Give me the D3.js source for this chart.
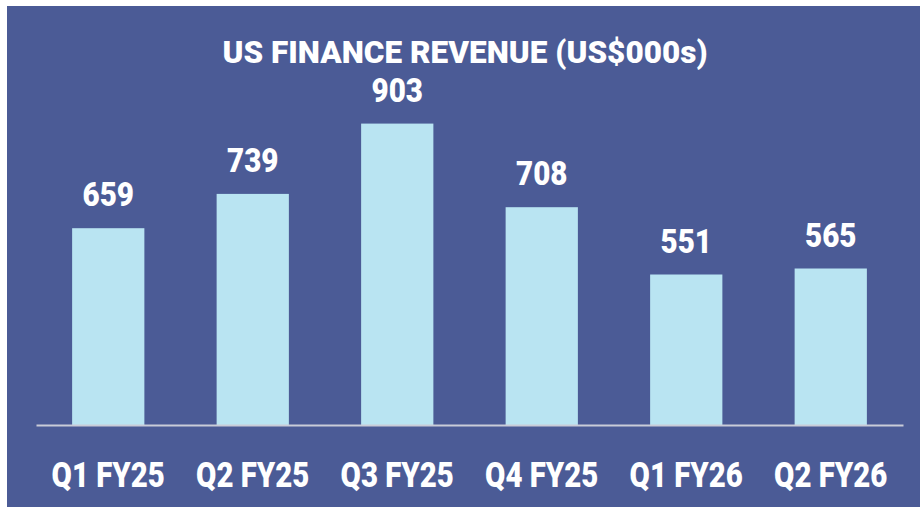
<!DOCTYPE html>
<html>
<head>
<meta charset="utf-8">
<script src="https://cdn.jsdelivr.net/npm/d3@7"></script>
<style>
  html, body { margin: 0; padding: 0; background: #fff; }
  svg text { font-family: Roboto, "DejaVu Sans", sans-serif; font-weight: 900; fill: #fff; }
</style>
</head>
<body>
<div id="chart"></div>
<script>
// chart data
var categories = ["Q1 FY25", "Q2 FY25", "Q3 FY25", "Q4 FY25", "Q1 FY26", "Q2 FY26"];
var revenue = [659, 739, 903, 708, 551, 565];
var title = "US FINANCE REVENUE (US$000s)";

var W = 920, H = 507;
var margin = { top: 82, right: 17, bottom: 82, left: 36 };
var width = W - margin.left - margin.right,
    height = 425 - margin.top;

// squeeze text horizontally, the original uses a condensed face
function condense(sel, target) {
    sel.each(function () {
        var len = this.getComputedTextLength();
        d3.select(this)
            .attr("textLength", len * target)
            .attr("lengthAdjust", "spacingAndGlyphs");
    });
}

var svg = d3.select("#chart")
    .append("svg")
    .attr("width", W)
    .attr("height", H);

// background panel
svg.append("rect")
    .attr("x", 7).attr("y", 6)
    .attr("width", W - 7).attr("height", H - 6)
    .attr("fill", "#4b5b96");

svg.append("text")
    .attr("x", 465).attr("y", 63)
    .attr("text-anchor", "middle")
    .style("font-size", "31px")
    .text(title)
    .attr("textLength", 485)
    .attr("lengthAdjust", "spacingAndGlyphs");

var g = svg.append("g")
    .attr("transform", "translate(" + margin.left + "," + margin.top + ")");

var x = d3.scaleBand()
    .range([0, width])
    .domain(categories)
    .paddingInner(0.5)
    .paddingOuter(0.25);

// axis does not start at zero in the original
var y = d3.scaleLinear()
    .domain([200, 1000])
    .range([height, 0]);

// bars
g.selectAll("rect.bar")
    .data(revenue)
    .enter()
    .append("rect")
    .attr("class", "bar")
    .attr("x", function (d, i) { return x(categories[i]); })
    .attr("width", x.bandwidth())
    .attr("y", function (d) { return y(d); })
    .attr("height", function (d) { return height - y(d); })
    .attr("fill", "#b9e4f2");

// value labels
g.selectAll("text.val")
    .data(revenue)
    .enter()
    .append("text")
    .attr("class", "val")
    .attr("x", function (d, i) { return x(categories[i]) + x.bandwidth() / 2; })
    .attr("y", function (d) { return y(d) - 22; })
    .attr("text-anchor", "middle")
    .style("font-size", "34px")
    .text(function (d) { return d; })
    .call(condense, 0.87);

// x axis
var xAxis = g.append("g")
    .attr("transform", "translate(0," + height + ")")
    .call(d3.axisBottom(x).tickSize(0).tickPadding(0));
xAxis.select(".domain").attr("stroke", "#c9ccd8").attr("stroke-width", 2);
xAxis.selectAll("text")
    .attr("dy", 0)
    .attr("y", 62)
    .attr("fill", "#fff")
    .style("font-size", "35px")
    .call(condense, 0.84);
</script>
</body>
</html>
